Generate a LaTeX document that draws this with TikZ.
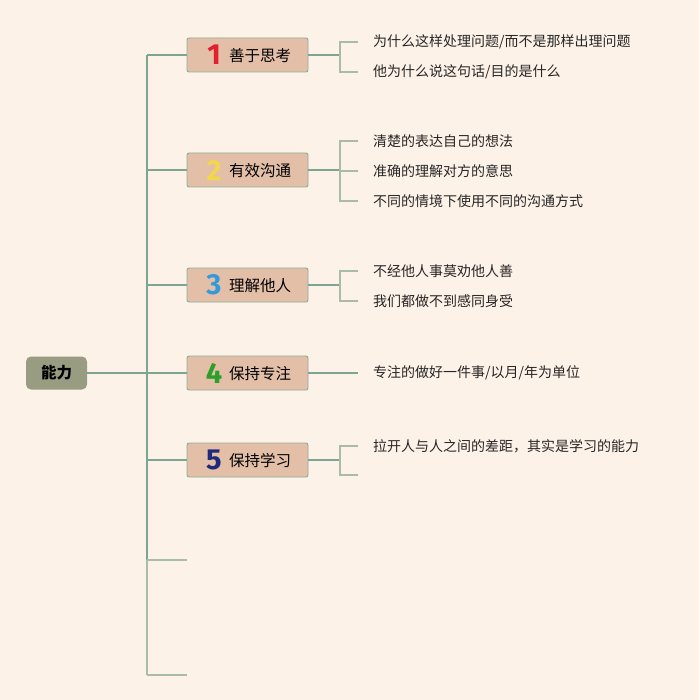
\documentclass[tikz,border=0pt]{standalone}
\usepackage{fontspec}
\setmainfont{Noto Sans CJK SC}
\newfontfamily\cjk{Noto Sans CJK SC}
\newfontfamily\numfont{Fira Sans}
\definecolor{bg}{HTML}{FDF2E8}
\definecolor{topicfill}{HTML}{E3BFA8}
\definecolor{topicborder}{HTML}{8DAE99}
\definecolor{rootfill}{HTML}{989C80}
\definecolor{linec}{HTML}{7DA692}
\definecolor{linelight}{HTML}{A9BCAA}
\definecolor{cA}{HTML}{E0202F}
\definecolor{cB}{HTML}{F2D64B}
\definecolor{cC}{HTML}{3399DD}
\definecolor{cD}{HTML}{2AA02A}
\definecolor{cE}{HTML}{1F2A7A}
\tikzset{
  conn/.style={draw=linec, line width=1.2pt},
  connlight/.style={draw=linelight, line width=1.2pt},
  topicbox/.style={draw=topicborder, fill=topicfill, line width=0.9pt, rounded corners=2pt, minimum width=121pt, minimum height=34pt, inner sep=0pt},
  rootbox/.style={fill=rootfill, rounded corners=5pt, minimum width=61pt, minimum height=33pt, inner sep=0pt, font=\cjk\fontsize{15.5}{15.5}\selectfont\bfseries},
  numtext/.style={inner sep=0pt, font=\numfont\fontsize{29}{29}\selectfont\bfseries},
  toptext/.style={inner sep=0pt, anchor=west, font=\cjk\fontsize{15.5}{15.5}\selectfont},
  subtext/.style={inner sep=0pt, anchor=west, font=\cjk\fontsize{14}{14}\selectfont, text=black!85},
}
\begin{document}
\begin{tikzpicture}[x=1pt,y=-1pt]
\fill[bg] (0,0) rectangle (699,700);
\useasboundingbox (0,0) rectangle (699,700);

% root
\node[rootbox] (root) at (56.5,373) {能力};
\coordinate (tr) at (147,0);

% topics
\node[topicbox] (t1) at (247.5,55) {};
\node[topicbox] (t2) at (247.5,170) {};
\node[topicbox] (t3) at (247.5,285) {};
\node[topicbox] (t4) at (247.5,373) {};
\node[topicbox] (t5) at (247.5,460) {};
\coordinate (t6) at (187,560);
\coordinate (t7) at (187,675);

\node[numtext, text=cA] (n1) at (214,55) {1};
\node[numtext, text=cB] (n2) at (214,170) {2};
\node[numtext, text=cC] (n3) at (214,285) {3};
\node[numtext, text=cD] (n4) at (214,373) {4};
\node[numtext, text=cE] (n5) at (214,460) {5};
\node[toptext] (l1) at (229,56) {善于思考};
\node[toptext] (l2) at (229,171) {有效沟通};
\node[toptext] (l3) at (229,286) {理解他人};
\node[toptext] (l4) at (229,374) {保持专注};
\node[toptext] (l5) at (229,461) {保持学习};

% trunk
\draw[conn] (t1.west -| tr) -- (t6 -| tr);
\draw[connlight] (t6 -| tr) -- (t7 -| tr);
\draw[conn] (root.east) -- (t4.west);
\draw[conn] (t1.west -| tr) -- (t1.west);
\draw[conn] (t2.west -| tr) -- (t2.west);
\draw[conn] (t3.west -| tr) -- (t3.west);
\draw[conn] (t5.west -| tr) -- (t5.west);
\draw[connlight] (t6 -| tr) -- (t6);
\draw[connlight] (t7 -| tr) -- (t7);

% subtopic texts
\node[subtext] (s11) at (373,42) {为什么这样处理问题/而不是那样出理问题};
\node[subtext] (s12) at (373,72) {他为什么说这句话/目的是什么};
\node[subtext] (s21) at (373,141) {清楚的表达自己的想法};
\node[subtext] (s22) at (373,171) {准确的理解对方的意思};
\node[subtext] (s23) at (373,201) {不同的情境下使用不同的沟通方式};
\node[subtext] (s31) at (373,271) {不经他人事莫劝他人善};
\node[subtext] (s32) at (373,301) {我们都做不到感同身受};
\node[subtext] (s41) at (373,373) {专注的做好一件事/以月/年为单位};
\node[subtext] (s51) at (373,446) {拉开人与人之间的差距，其实是学习的能力};
\coordinate (s52) at (373,475);

% bracket x positions
\coordinate (bx) at (340,0);
\coordinate (ex) at (358,0);

% topic 1
\draw[conn] (t1.east) -- (t1.east -| bx);
\draw[connlight] (s11.west -| ex) -- (s11.west -| bx) -- (s12.west -| bx) -- (s12.west -| ex);
% topic 2
\draw[conn] (t2.east) -- (t2.east -| bx);
\draw[connlight] (s21.west -| ex) -- (s21.west -| bx) -- (s23.west -| bx) -- (s23.west -| ex);
\draw[connlight] (s22.west -| bx) -- (s22.west -| ex);
% topic 3
\draw[conn] (t3.east) -- (t3.east -| bx);
\draw[connlight] (s31.west -| ex) -- (s31.west -| bx) -- (s32.west -| bx) -- (s32.west -| ex);
% topic 4
\draw[conn] (t4.east) -- (t4.east -| ex);
% topic 5
\draw[conn] (t5.east) -- (t5.east -| bx);
\draw[connlight] (s51.west -| ex) -- (s51.west -| bx) -- (s52 -| bx) -- (s52 -| ex);
\end{tikzpicture}
\end{document}
